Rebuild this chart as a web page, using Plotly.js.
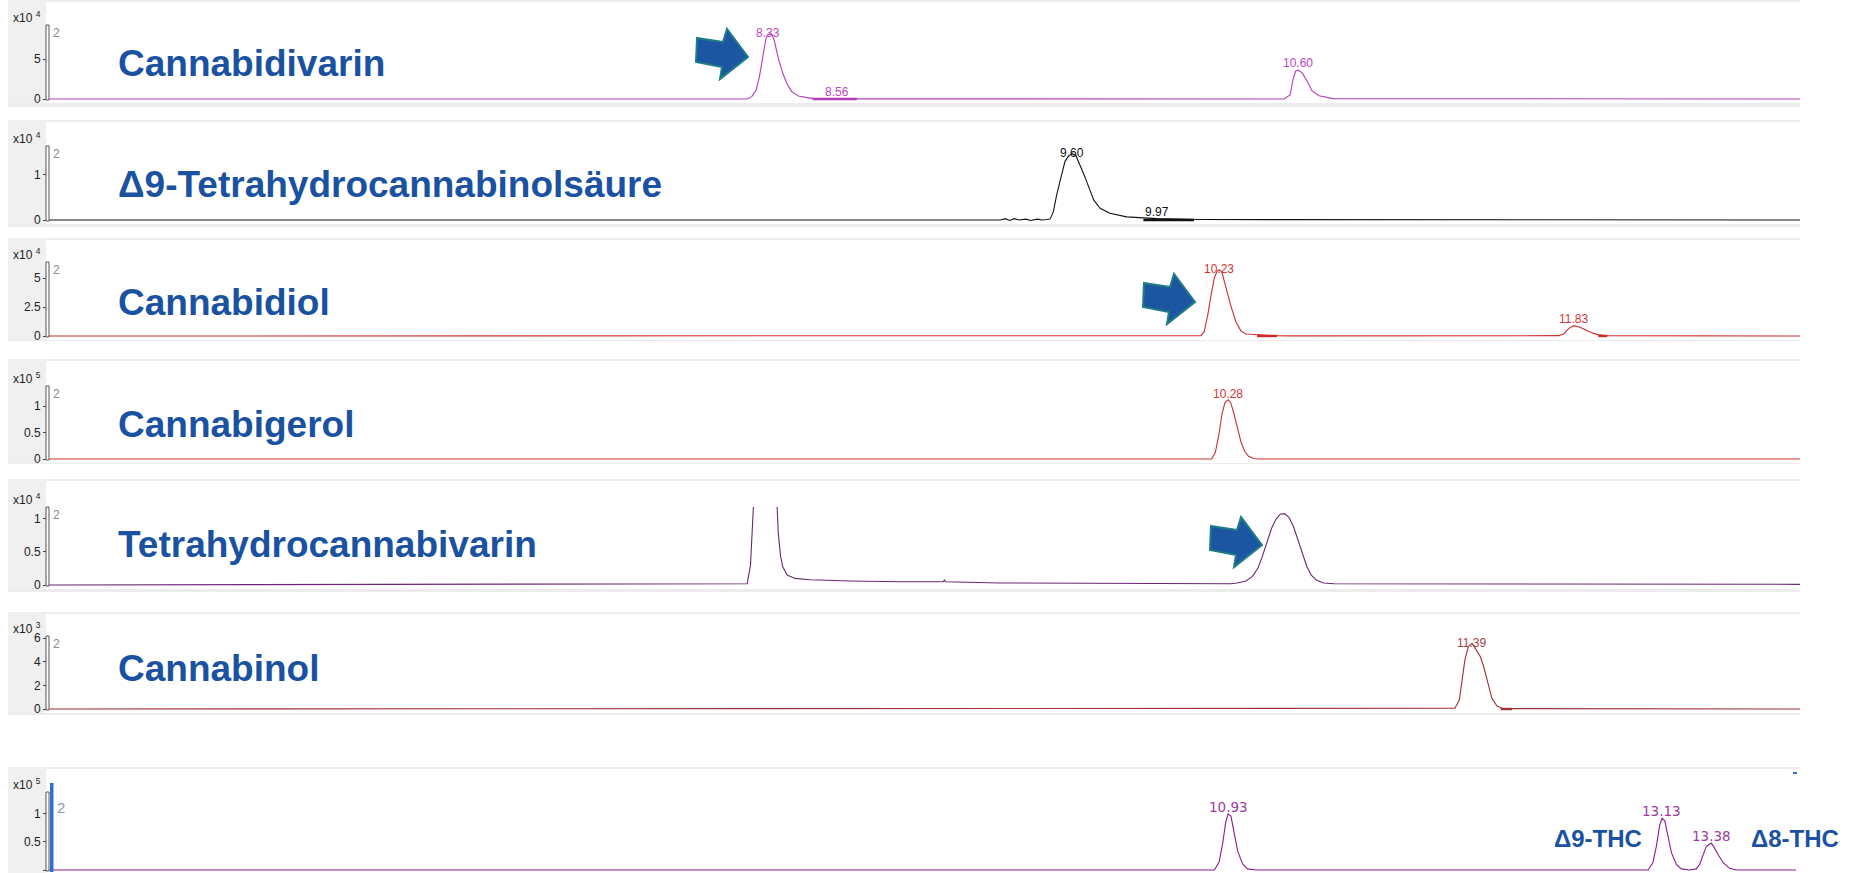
<!DOCTYPE html>
<html>
<head>
<meta charset="utf-8">
<script src="https://cdn.plot.ly/plotly-3.0.1.min.js"></script>
<style>
  html, body { margin: 0; padding: 0; background: #ffffff; overflow: hidden; }
  #chart { width: 1851px; height: 873px; }
</style>
</head>
<body>
<div id="chart"></div>
<script>
// Stacked LC-MS extracted-ion chromatograms of cannabinoid standards.
// Time in minutes, intensity in units of the panel multiplier (x10^n counts).

// ---------- data ----------
const compoundNames = ['Cannabidivarin', 'Δ9-Tetrahydrocannabinolsäure', 'Cannabidiol',
                       'Cannabigerol', 'Tetrahydrocannabivarin', 'Cannabinol'];
const mixPeakNames = ['Δ9-THC', 'Δ8-THC'];
const exponents = [4, 4, 4, 5, 4, 3, 5];
const tickValues = [[0, 5], [0, 1], [0, 2.5, 5], [0, 0.5, 1], [0, 0.5, 1], [0, 2, 4, 6], [0, 0.5, 1]];
const tickLabels = [['0', '5'], ['0', '1'], ['0', '2.5', '5'], ['0', '0.5', '1'], ['0', '0.5', '1'], ['0', '2', '4', '6'], ['0', '0.5', '1']];
const timeRanges = [[5.25, 12.75], [5.16, 12.76], [4.95, 12.85], [4.96, 12.86], [4.95, 12.85], [4.97, 12.87], [4.95, 13.83]];
const intensityTops = [9.25, 1.64, 6.38, 1.38, 1.18, 6.17, 1.39];
const channelNumber = '2';

// Cannabidivarin
const cbdvTime = [5.25, 8.239, 8.26, 8.279, 8.293, 8.307, 8.321, 8.33, 8.346, 8.356, 8.374, 8.393, 8.41, 8.431, 8.46, 8.496, 8.524, 8.56, 8.62, 8.72,
                  10.54, 10.566, 10.579, 10.59, 10.60, 10.617, 10.64, 10.66, 10.69, 10.75, 12.75];
const cbdvSignal = [0, 0, 0.29, 1.12, 2.79, 5.29, 7.58, 8.1, 8.08, 7.37, 5.08, 3.21, 1.96, 0.92, 0.38, 0.17, 0.08, 0.06, 0.05, 0.02,
                    0, 0.5, 2.5, 3.5, 3.6, 3.3, 2.2, 1.0, 0.4, 0.05, 0];
const cbdvPeaks = [8.33, 8.56, 10.60];
const cbdvPeakHeights = [8.1, 0.06, 3.6];

// Δ9-Tetrahydrocannabinolsäure
const thcaTime = [5.16, 9.29, 9.31, 9.33, 9.35, 9.37, 9.40, 9.42, 9.45, 9.47, 9.49, 9.505, 9.519, 9.534, 9.555, 9.57, 9.584, 9.60,
                  9.617, 9.635, 9.656, 9.675, 9.695, 9.722, 9.765, 9.837, 9.909, 9.97, 10.155, 12.76];
const thcaSignal = [0, 0, 0.03, -0.01, 0.03, 0, 0.02, -0.01, 0.02, 0, 0.01, 0.02, 0.18, 0.56, 1.0, 1.30, 1.41, 1.47,
                    1.43, 1.22, 0.96, 0.70, 0.44, 0.26, 0.15, 0.07, 0.04, 0.03, 0.01, 0];
const thcaPeaks = [9.60, 9.97];
const thcaPeakHeights = [1.47, 0.03];

// Cannabidiol
const cbdTime = [4.95, 10.147, 10.162, 10.178, 10.193, 10.207, 10.22, 10.23, 10.241, 10.253, 10.268, 10.283, 10.305, 10.328, 10.35, 10.403, 10.486, 10.55,
                 11.762, 11.785, 11.807, 11.83, 11.853, 11.875, 11.905, 11.936, 11.973, 12.85];
const cbdSignal = [0, 0.03, 0.37, 1.81, 3.53, 4.97, 5.6, 5.69, 5.55, 4.68, 3.53, 2.53, 1.23, 0.43, 0.17, 0.1, 0.03, 0.01,
                   0.03, 0.2, 0.66, 0.89, 0.78, 0.6, 0.32, 0.12, 0.03, 0];
const cbdPeaks = [10.23, 11.83];
const cbdPeakHeights = [5.69, 0.89];

// Cannabigerol
const cbgTime = [4.96, 10.205, 10.222, 10.238, 10.252, 10.266, 10.28, 10.292, 10.306, 10.322, 10.338, 10.355, 10.372, 10.395, 10.42, 12.86];
const cbgSignal = [0, 0, 0.12, 0.45, 0.85, 1.07, 1.12, 1.06, 0.86, 0.58, 0.32, 0.14, 0.05, 0.01, 0, 0];
const cbgPeaks = [10.28];
const cbgPeakHeights = [1.12];

// Tetrahydrocannabivarin (first peak runs off scale)
const thcvTime = [4.95, 8.10, 8.115, 8.125, 8.13, 8.14, 8.17, 8.19, 8.21, 8.225, 8.232, 8.24, 8.25, 8.26, 8.28, 8.316, 8.384, 8.565, 8.79, 8.985, 8.99, 8.995, 9.24, 9.918,
                  10.279, 10.311, 10.35, 10.38, 10.405, 10.425, 10.445, 10.465, 10.485, 10.505, 10.525, 10.545, 10.565, 10.585, 10.605, 10.625, 10.645, 10.67, 10.70, 10.748, 12.85];
const thcvSignal = [0, 0.02, 0.3, 0.9, 1.3, 2.0, 3.2, 3.5, 3.2, 2.0, 1.3, 0.8, 0.45, 0.28, 0.15, 0.1, 0.08, 0.06, 0.05, 0.05, 0.08, 0.05, 0.03, 0.02,
                    0.02, 0.03, 0.06, 0.13, 0.26, 0.44, 0.65, 0.85, 0.99, 1.07, 1.08, 1.02, 0.88, 0.68, 0.46, 0.28, 0.15, 0.07, 0.03, 0.02, 0.01];

// Cannabinol
const cbnTime = [4.97, 11.313, 11.333, 11.344, 11.358, 11.373, 11.39, 11.405, 11.428, 11.443, 11.461, 11.48, 11.503, 11.526, 11.563, 12.87];
const cbnSignal = [0, 0.06, 0.76, 2.17, 4.13, 5.26, 5.54, 5.12, 4.42, 3.57, 2.17, 0.9, 0.25, 0.06, 0.03, 0];
const cbnPeaks = [11.39];
const cbnPeakHeights = [5.54];

// Mixed sample with Δ9-THC and Δ8-THC
const mixTime = [4.95, 10.86, 10.884, 10.902, 10.918, 10.93, 10.944, 10.96, 10.978, 11.003, 11.028, 11.07,
                 13.059, 13.084, 13.102, 13.118, 13.13, 13.144, 13.16, 13.178, 13.203, 13.228, 13.27, 13.304, 13.321, 13.338, 13.355, 13.38, 13.39, 13.414, 13.44, 13.473, 13.507, 13.81];
const mixSignal = [0, 0, 0.14, 0.47, 0.86, 1.0, 0.96, 0.66, 0.34, 0.11, 0.02, 0,
                   0, 0.13, 0.43, 0.79, 0.92, 0.88, 0.61, 0.31, 0.10, 0.02, 0, 0.02, 0.10, 0.28, 0.42, 0.48, 0.43, 0.28, 0.13, 0.03, 0, 0];
const mixPeaks = [10.93, 13.13, 13.38];
const mixPeakHeights = [1.0, 0.92, 0.48];

// Integration marks drawn along the baseline (start, end)
const cbdvMarks = [[8.52, 8.71]];
const thcaMarks = [[9.91, 10.13]];
const cbdMarks = [[10.40, 10.49], [11.94, 11.98]];
const cbnMarks = [[11.52, 11.57]];

// ---------- layout ----------
const W = 1851, H = 873;
const fx = p => p / W;          // pixel -> paper x
const fy = p => 1 - p / H;      // pixel -> paper y

const panelTopPx    = [0, 120, 238, 359, 479, 612, 767];
const axisTopPx     = [25, 146, 262, 386, 507, 636, 792];
const baselinePx    = [99, 220, 336, 459, 585, 709, 870];
const bandBottomPx  = [107, 227, 341, 464, 592, 715, 873];
const plotLeftPx = 49, plotRightPx = 1800, stripLeftPx = 8;

const lineColors  = ['#b43cb6', '#111111', '#cf2b2b', '#c83232', '#6c2676', '#9e3036', '#8c1c8c'];
const labelColors = ['#c244c2', '#111111', '#d43434', '#d43434', '#6c2676', '#a54045', '#a03aa0'];
const nameBlue = '#1a52a1';

const series = [
  {t: cbdvTime, y: cbdvSignal, peaks: cbdvPeaks, heights: cbdvPeakHeights, marks: cbdvMarks},
  {t: thcaTime, y: thcaSignal, peaks: thcaPeaks, heights: thcaPeakHeights, marks: thcaMarks},
  {t: cbdTime,  y: cbdSignal,  peaks: cbdPeaks,  heights: cbdPeakHeights,  marks: cbdMarks},
  {t: cbgTime,  y: cbgSignal,  peaks: cbgPeaks,  heights: cbgPeakHeights,  marks: []},
  {t: thcvTime, y: thcvSignal, peaks: [],        heights: [],              marks: []},
  {t: cbnTime,  y: cbnSignal,  peaks: cbnPeaks,  heights: cbnPeakHeights,  marks: cbnMarks},
  {t: mixTime,  y: mixSignal,  peaks: mixPeaks,  heights: mixPeakHeights,  marks: []}
];

// label offsets (px) above the apex for each panel's peak labels
const labelShift = [[1, 7, 7], [1, 7], [1, 7], [6], [], [0], [7, 7, 7]];
const labelXShift = [[0, 15, 0], [0, 0], [0, 0], [0], [], [0], [0, 0, 0]];

const traces = [];
const layout = {
  width: W, height: H,
  margin: {l: 0, r: 0, t: 0, b: 0},
  paper_bgcolor: '#ffffff',
  plot_bgcolor: 'rgba(0,0,0,0)',
  showlegend: false,
  font: {family: 'Liberation Sans, Arial, sans-serif', color: '#222'},
  shapes: [],
  annotations: []
};

series.forEach((s, i) => {
  const n = i + 1;
  const xa = 'x' + (n === 1 ? '' : n), ya = 'y' + (n === 1 ? '' : n);
  const xKey = 'xaxis' + (n === 1 ? '' : n), yKey = 'yaxis' + (n === 1 ? '' : n);
  const unitsPerPx = intensityTops[i] / (baselinePx[i] - axisTopPx[i]);

  layout[xKey] = {
    domain: [fx(plotLeftPx), fx(plotRightPx)],
    range: timeRanges[i],
    visible: false,
    anchor: ya,
    fixedrange: true
  };
  layout[yKey] = {
    domain: [fy(baselinePx[i] + 3), fy(axisTopPx[i])],
    range: [-3 * unitsPerPx, intensityTops[i]],
    anchor: xa,
    tickvals: tickValues[i],
    ticktext: tickLabels[i],
    ticks: 'outside', ticklen: 5, tickwidth: 1, tickcolor: '#444',
    tickfont: {family: 'Liberation Sans, Arial, sans-serif', size: 12, color: '#222'},
    showline: false, showgrid: false, zeroline: false, fixedrange: true
  };

  traces.push({
    type: 'scatter', mode: 'lines', x: s.t, y: s.y, xaxis: xa, yaxis: ya,
    line: {color: lineColors[i], width: 1.1, shape: 'linear'},
    hoverinfo: 'skip'
  });

  if (s.marks.length) {
    const mx = [], my = [];
    s.marks.forEach(m => { mx.push(m[0], m[1], null); my.push(0, 0, null); });
    traces.push({
      type: 'scatter', mode: 'lines', x: mx, y: my, xaxis: xa, yaxis: ya,
      line: {color: lineColors[i], width: 2.4}, hoverinfo: 'skip'
    });
  }

  // peak retention-time labels
  s.peaks.forEach((p, j) => {
    layout.annotations.push({
      xref: xa, yref: ya, x: p, y: s.heights[j],
      text: p.toFixed(2), showarrow: false,
      xanchor: 'center', yanchor: 'middle',
      yshift: labelShift[i][j], xshift: labelXShift[i][j],
      font: i === 6
        ? {family: 'DejaVu Sans, sans-serif', size: 13.5, color: labelColors[i]}
        : {family: 'Liberation Sans, Arial, sans-serif', size: 12, color: labelColors[i]}
    });
  });

  // panel frame: light top rule, grey left strip, grey band under the baseline
  layout.shapes.push(
    {type: 'rect', xref: 'paper', yref: 'paper', layer: 'below',
     x0: fx(stripLeftPx), x1: fx(plotRightPx), y0: fy(panelTopPx[i] + 2), y1: fy(panelTopPx[i]),
     fillcolor: '#eeeeee', line: {width: 0}},
    {type: 'rect', xref: 'paper', yref: 'paper', layer: 'below',
     x0: fx(stripLeftPx), x1: fx(plotLeftPx - 3), y0: fy(bandBottomPx[i]), y1: fy(panelTopPx[i]),
     fillcolor: '#f0f0f0', line: {width: 0}},
    {type: 'rect', xref: 'paper', yref: 'paper', layer: 'below',
     x0: fx(stripLeftPx), x1: fx(plotRightPx), y0: fy(bandBottomPx[i]), y1: fy(baselinePx[i] + 4),
     fillcolor: '#ececec', line: {width: 0}},
    // double y-axis rule
    {type: 'rect', xref: 'paper', yref: 'paper', layer: 'above',
     x0: fx(plotLeftPx - 3), x1: fx(plotLeftPx), y0: fy(baselinePx[i] + 1), y1: fy(axisTopPx[i]),
     fillcolor: '#ffffff', line: {color: '#555555', width: 1}}
  );

  // multiplier and channel number
  layout.annotations.push(
    {xref: 'paper', yref: 'paper', x: fx(11), y: fy(axisTopPx[i] - 8),
     xanchor: 'left', yanchor: 'middle', showarrow: false,
     text: 'x10 <sup>' + exponents[i] + '</sup>',
     font: {family: 'Liberation Sans, Arial, sans-serif', size: 12, color: '#222'}},
    {xref: 'paper', yref: 'paper', x: fx(i === 6 ? 55 : 51), y: fy(axisTopPx[i] + (i === 6 ? 15 : 8)),
     xanchor: 'left', yanchor: 'middle', showarrow: false,
     text: channelNumber,
     font: {family: 'Liberation Sans, Arial, sans-serif', size: i === 6 ? 15 : 12, color: i === 6 ? '#8a9ab0' : '#8a8a8a'}}
  );
});

// compound names
const nameCenterPx = [64, 184, 302, 424, 544, 668];
compoundNames.forEach((name, i) => {
  layout.annotations.push({
    xref: 'paper', yref: 'paper', x: fx(116), y: fy(nameCenterPx[i]),
    xanchor: 'left', yanchor: 'middle', showarrow: false,
    text: '<b>' + name + '</b>',
    font: {family: 'Liberation Sans, Arial, sans-serif', size: 37, color: nameBlue}
  });
});
const mixNamePx = [[1598, 838], [1795, 838]];
mixPeakNames.forEach((name, i) => {
  layout.annotations.push({
    xref: 'paper', yref: 'paper', x: fx(mixNamePx[i][0]), y: fy(mixNamePx[i][1]),
    xanchor: 'center', yanchor: 'middle', showarrow: false,
    text: '<b>' + name + '</b>',
    font: {family: 'Liberation Sans, Arial, sans-serif', size: 24, color: nameBlue}
  });
});

// block arrows pointing at the compound peaks
const arrowOutline = [[-51, -19], [-25, -15], [-21, -28], [0, 0], [-28, 22], [-26, 10], [-52, 5]];
const arrowTipsPx = [[748, 57], [1195, 302], [1262, 545]];
arrowTipsPx.forEach(tip => {
  const path = arrowOutline.map((d, k) =>
    (k === 0 ? 'M' : 'L') + fx(tip[0] + d[0]).toFixed(5) + ',' + fy(tip[1] + d[1]).toFixed(5)).join(' ') + ' Z';
  layout.shapes.push({
    type: 'path', xref: 'paper', yref: 'paper', layer: 'above', path: path,
    fillcolor: '#1c55a2', line: {color: '#1f7d84', width: 2}
  });
});

// selection marker at the left of the bottom panel, and the small marker at its top right
layout.shapes.push(
  {type: 'rect', xref: 'paper', yref: 'paper', layer: 'above',
   x0: fx(50), x1: fx(53.5), y0: fy(872), y1: fy(783),
   fillcolor: '#2f6fd0', line: {width: 0}},
  {type: 'rect', xref: 'paper', yref: 'paper', layer: 'above',
   x0: fx(1793), x1: fx(1797), y0: fy(774), y1: fy(772),
   fillcolor: '#3a6fc8', line: {width: 0}}
);

Plotly.newPlot('chart', traces, layout, {staticPlot: true, displayModeBar: false});
</script>
</body>
</html>
